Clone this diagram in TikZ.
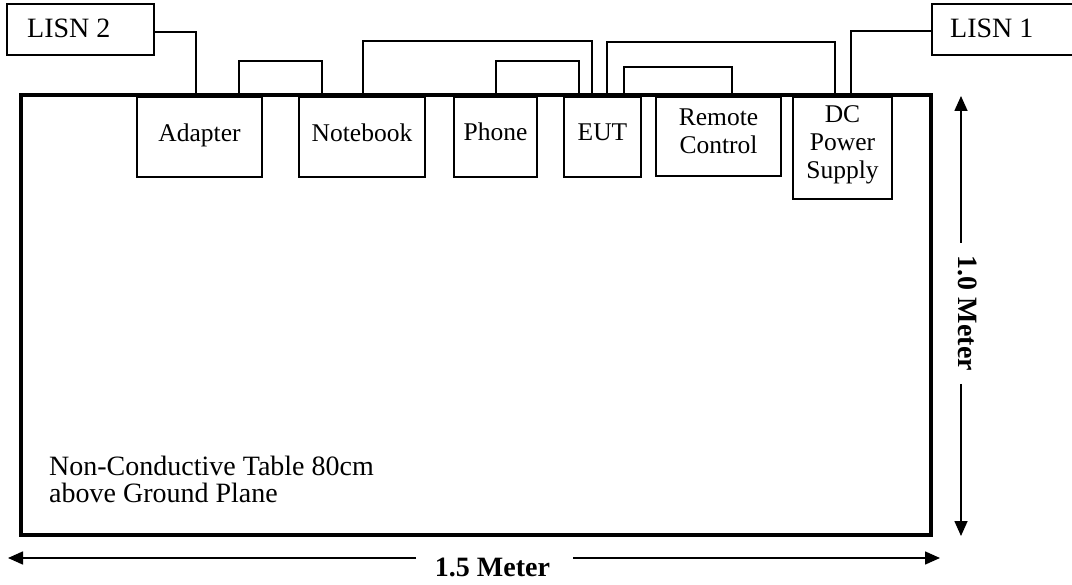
\documentclass[tikz,border=0pt]{standalone}
\usepackage{fontspec}
\setmainfont{Liberation Serif}
\usetikzlibrary{arrows.meta}
\begin{document}
\begin{tikzpicture}[x=1pt,y=-1pt,
  box/.style={draw,line width=1.9pt,inner sep=0pt,rectangle},
  lbl/.style={font=\fontsize{25.5}{28}\selectfont,inner sep=0pt,anchor=base,align=center},
  lisnlbl/.style={font=\fontsize{28}{30}\selectfont,inner sep=0pt,anchor=base west},
  cable/.style={line width=1.6pt},
  dimline/.style={line width=1.6pt,-{Triangle[length=15pt,width=13pt]}},
  dimlbl/.style={font=\fontsize{28}{30}\selectfont\bfseries,inner sep=0pt}]
\useasboundingbox (0,0) rectangle (1072,585);
% table
\node[draw,line width=3.5pt,inner sep=0pt,minimum width=910pt,minimum height=440pt] (table) at (476,315) {};
\node[inner sep=0pt,anchor=base west,align=left,font=\fontsize{28}{27}\selectfont] (tabletext) at (49,502) {Non-Conductive Table 80cm\\above Ground Plane};
% LISN boxes
\node[box,minimum width=147pt,minimum height=51pt] (lisn2) at (80.5,29.5) {};
\node[lisnlbl] (lisn2t) at (27,37.5) {LISN 2};
\node[box,minimum width=153pt,minimum height=51pt] (lisn1) at (1008.5,29.5) {};
\node[lisnlbl] (lisn1t) at (950,37.5) {LISN 1};
% devices
\node[box,minimum width=125pt,minimum height=80pt] (adapter) at (199.5,137) {};
\node[box,minimum width=126pt,minimum height=80pt] (notebook) at (362,137) {};
\node[box,minimum width=83pt,minimum height=80pt] (phone) at (495.5,137) {};
\node[box,minimum width=77pt,minimum height=80pt] (eut) at (602.5,137) {};
\node[box,minimum width=125pt,minimum height=79pt] (remote) at (718.5,136.5) {};
\node[box,minimum width=99pt,minimum height=102pt] (dc) at (842.5,148) {};
\node[lbl] (adaptert) at (199.5,141.5) {Adapter};
\node[lbl] (notebookt) at (362,141.5) {Notebook};
\node[lbl] (phonet) at (495.5,141) {Phone};
\node[lbl] (eutt) at (602.5,141) {EUT};
\node[lbl] (remotet) at (718.5,153.5) {Remote\\Control};
\node[lbl] (dct) at (842.5,179) {DC\\Power\\Supply};
% cables
\draw[cable] ([yshift=-2.5pt]lisn2.east) -| ([xshift=-3.5pt]adapter.north);
\draw[cable] ([xshift=39.5pt]adapter.north) -- ++(0,-35) -| ([xshift=-40pt]notebook.north);
\draw[cable] ([xshift=1pt]notebook.north) -- ++(0,-55) -| ([xshift=-10.5pt]eut.north);
\draw[cable] ([xshift=0.5pt]phone.north) -- ++(0,-35) -| ([xshift=-23.5pt]eut.north);
\draw[cable] ([xshift=4.5pt]eut.north) -- ++(0,-54) -| ([xshift=-7.5pt]dc.north);
\draw[cable] ([xshift=21.5pt]eut.north) -- ++(0,-29) -| ([xshift=13.5pt]remote.north);
\draw[cable] ([xshift=8.5pt]dc.north) |- ([yshift=-1.5pt]lisn1.west);
% dimensions
\coordinate (hl) at (8,558);
\coordinate (hgl) at (416,558);
\coordinate (hgr) at (573,558);
\coordinate (hr) at (940,558);
\draw[dimline] (hgl) -- (hl);
\draw[dimline] (hgr) -- (hr);
\node[dimlbl,anchor=base] (width) at (492.5,576) {1.5 Meter};
\coordinate (vt) at (961,96);
\coordinate (vgt) at (961,243);
\coordinate (vgb) at (961,384);
\coordinate (vb) at (961,536);
\draw[dimline] (vgt) -- (vt);
\draw[dimline] (vgb) -- (vb);
\node[dimlbl,rotate=-90,anchor=base] (height) at (958,313.5) {1.0 Meter};
\end{tikzpicture}
\end{document}
